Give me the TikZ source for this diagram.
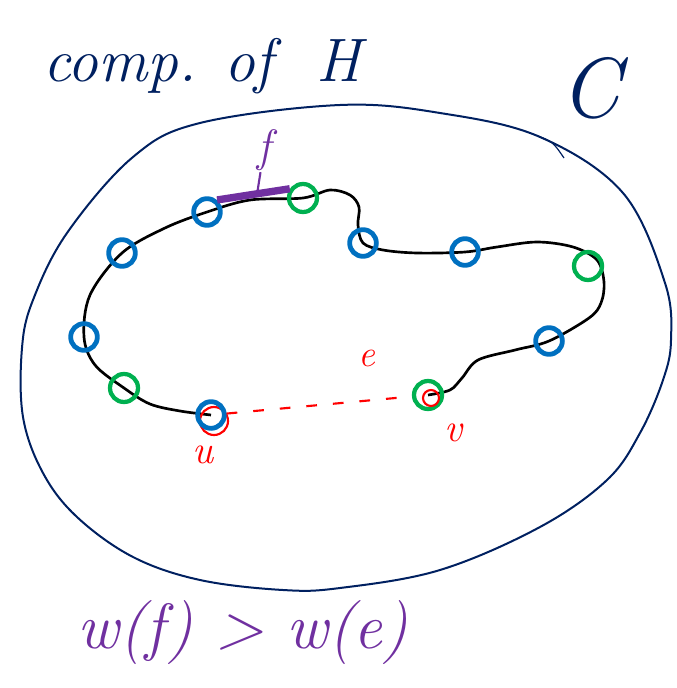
\documentclass[tikz,border=0pt]{standalone}
\usepackage{xcolor}
\usepackage{tikz}
\usetikzlibrary{backgrounds}
\definecolor{cNavy}  {RGB}{0,32,96}
\definecolor{cBlue}  {RGB}{0,112,192}
\definecolor{cGreen} {RGB}{0,176,80}
\definecolor{cPurple}{RGB}{112,48,160}
\definecolor{cRed}   {RGB}{255,0,0}
\tikzset{
  vblue/.style={circle,draw=cBlue,line width=3.6pt,minimum size=20pt,inner sep=0pt},
  vgreen/.style={circle,draw=cGreen,line width=3.2pt,minimum size=21pt,inner sep=0pt},
  redring/.style={circle,draw=cRed,line width=1.6pt,minimum size=21pt,inner sep=0pt},
  outline/.style={draw=cNavy,line width=1.5pt},
  tour/.style={black,line width=2pt},
  heavy/.style={cPurple,line width=5.5pt},
  fstem/.style={cPurple,line width=1.6pt},
  light/.style={cRed,line width=1.6pt,dash pattern=on 8pt off 12pt},
  navytext/.style={text=cNavy,inner sep=1pt},
  ptext/.style={text=cPurple,inner sep=1pt},
  rtext/.style={text=cRed,inner sep=1pt},
}

\begin{document}
\begin{tikzpicture}[x=0.75pt,y=-0.75pt]
  \useasboundingbox (0,0) rectangle (677,688);
  % component C
  \draw[outline] plot[smooth cycle,tension=0.6] coordinates {
    (340,105) (440,113) (540,137) (623,193) (665,283) (671,340) (663,380)
    (640,433) (607,480) (540,527) (440,570) (340,588) (283,590) (200,580)
    (133,557) (77,517) (43,473) (23,417) (22,348) (33,300) (67,233)
    (133,157) (200,123)};
  \draw[outline,line width=0.9pt] (538,136) .. controls (553,142) .. (564,158);
  \node[navytext,font=\fontsize{46}{50}\selectfont\itshape] (comp) at (202,66)
    {comp.\hspace{0.45em}of\hspace{0.7em}H};
  \node[navytext,font=\fontsize{64}{70}\selectfont\itshape] (C) at (590,88) {C};

  % vertices on the tour
  \node[vblue]  (vb1) at (207,212) {};
  \node[vblue]  (vb2) at (122,253) {};
  \node[vblue]  (vb3) at (84,337)  {};
  \node[vblue]  (vb4) at (363,243) {};
  \node[vblue]  (vb5) at (465,252) {};
  \node[vblue]  (vb6) at (549,341) {};
  \node[vgreen] (vg1) at (303,198) {};
  \node[vgreen] (vg2) at (124,388) {};
  \node[vgreen] (vg3) at (588,266) {};
  \node[redring] (ur) at (214,421) {};
  \node[vblue]  (u)   at (211,415) {};
  \node[vgreen] (v)   at (428,395) {};
  \node[redring,minimum size=12pt] (vr) at (431,398) {};

  \begin{scope}[on background layer]
    \draw[tour] plot[smooth,tension=0.55] coordinates {
      (u.center) (180,411) (150,404) (vg2.center) (95,365) (vb3.center)
      (90,295) (vb2.center) (165,228) (vb1.center) (250,200) (vg1.center)
      (330,190) (350,195) (359,207) (358,225) (vb4.center) (383,250)
      (417,253) (vb5.center) (497,247) (537,242) (573,247) (597,260)
      (604,282) (601,303) (589,318) (vb6.center) (515,350) (478,360)
      (462,378) (450,390) (v.center)};
  \end{scope}

  \draw[heavy] (vb1.50) -- coordinate[pos=0.55] (fmid) (vg1.145);
  \draw[light] (u) -- (v);

  \node[ptext,font=\fontsize{34}{38}\selectfont\itshape] (f) at (264,150) {f};
  \draw[fstem] (f) -- (fmid);
  \node[rtext,font=\fontsize{28}{30}\selectfont\itshape] (e) at (367,358) {e};
  \node[rtext,font=\fontsize{30}{32}\selectfont\itshape] (ul) at (203,455) {u};
  \node[rtext,font=\fontsize{30}{32}\selectfont\itshape] (vl) at (453,433) {v};

  \node[ptext,font=\fontsize{48}{52}\selectfont\itshape] (cond) at (243,633) {w(f) > w(e)};
\end{tikzpicture}
\end{document}
